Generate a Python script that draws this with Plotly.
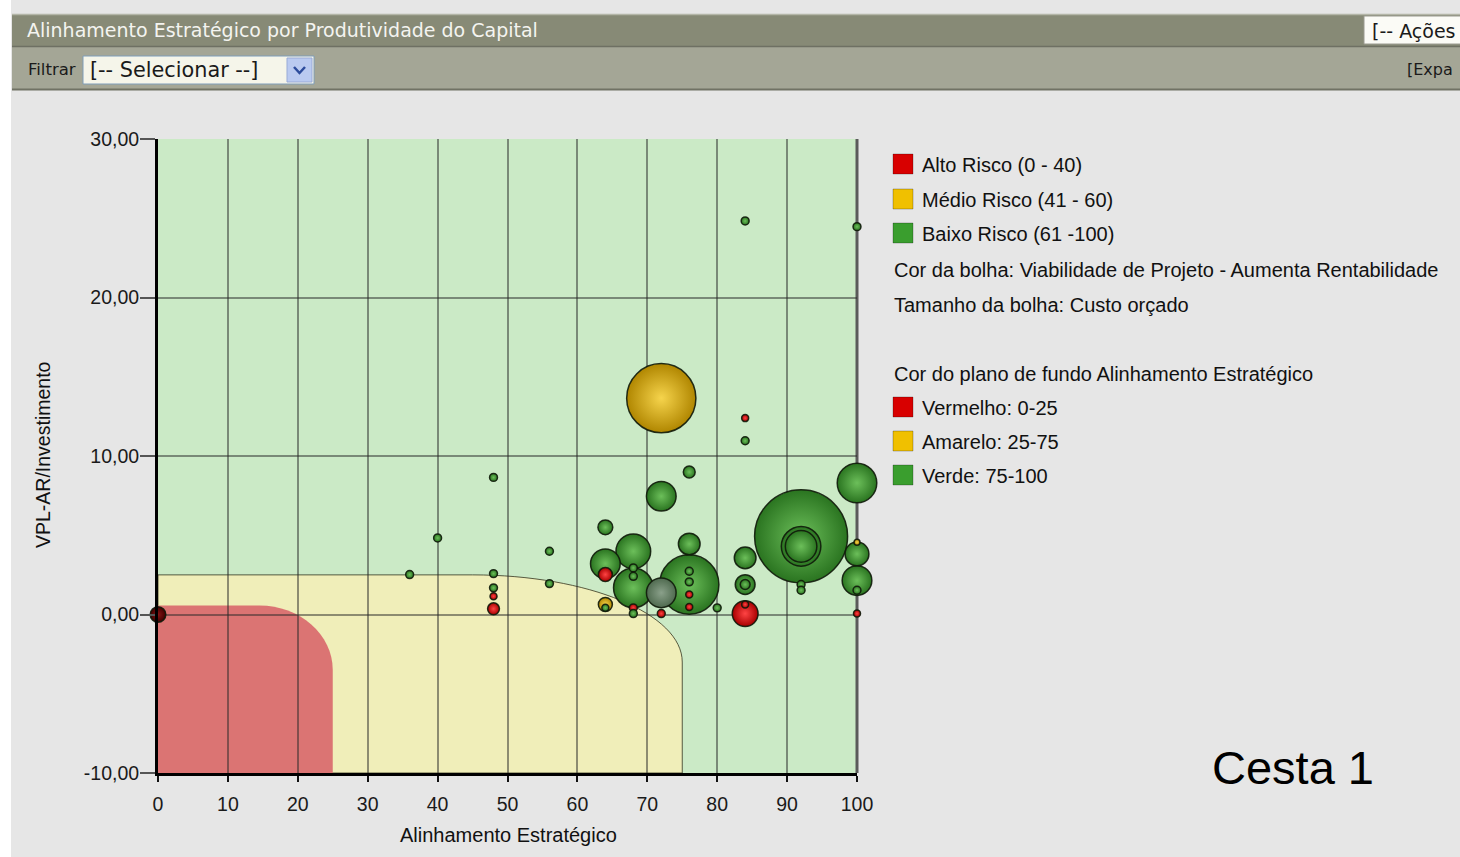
import plotly.graph_objects as go

# ----------------------------- data -----------------------------
alinhamento = [0, 48, 40, 56, 36, 48, 48, 48, 48, 56,
               64, 64, 64, 64, 64, 84, 84, 84, 100, 76,
               72, 68, 68, 68, 68, 72, 76, 76, 76, 76,
               76, 76, 72, 68, 68, 80, 84, 84, 84, 84,
               84, 92, 92, 92, 92, 92, 100, 100, 100, 100,
               100, 100, 72]
vpl_ar_invest = [0.0, 8.65, 4.83, 3.99, 2.52, 2.58, 1.68, 1.15, 0.36, 1.95,
                 5.5, 3.2, 2.52, 0.63, 0.42, 10.96, 12.39, 24.83, 24.47, 8.99,
                 7.46, 3.99, 2.94, 2.41, 1.68, 1.37, 4.45, 1.89, 2.73, 2.06,
                 1.26, 0.48, 0.06, 0.42, 0.06, 0.42, 3.57, 1.89, 1.89, 0.06,
                 0.63, 4.93, 4.3, 4.3, 1.89, 1.53, 8.3, 3.82, 4.56, 2.14,
                 1.53, 0.06, 13.65]
custo_orcado = [2.5, 0.64, 0.64, 0.64, 0.64, 0.64, 0.64, 0.5, 1.44, 0.64,
                2.25, 9.0, 2.0, 2.0, 0.5, 0.64, 0.5, 0.64, 0.64, 1.44,
                9.0, 12.3, 0.64, 0.64, 16.0, 9.0, 4.8, 36.0, 0.64, 0.64,
                0.5, 0.5, 0.64, 0.64, 0.64, 0.64, 4.8, 4.0, 1.0, 6.8,
                0.5, 88.4, 16.0, 10.2, 0.64, 0.64, 16.0, 5.8, 0.36, 9.0,
                0.64, 0.5, 49.0]
viabilidade = ["Crítico", "Baixo", "Baixo", "Baixo", "Baixo", "Baixo", "Baixo", "Alto", "Alto", "Baixo",
               "Baixo", "Baixo", "Alto", "Médio", "Baixo", "Baixo", "Alto", "Baixo", "Baixo", "Baixo",
               "Baixo", "Baixo", "Baixo", "Baixo", "Baixo", "Indefinido", "Baixo", "Baixo", "Baixo", "Baixo",
               "Alto", "Alto", "Alto", "Alto", "Baixo", "Baixo", "Baixo", "Baixo", "Baixo", "Alto",
               "Alto", "Baixo", "Baixo", "Baixo", "Baixo", "Baixo", "Baixo", "Baixo", "Médio", "Baixo",
               "Baixo", "Alto", "Médio"]

x_ticks = [0, 10, 20, 30, 40, 50, 60, 70, 80, 90, 100]
y_ticks = [-10, 0, 10, 20, 30]
y_ticktext = [f"{v:.2f}".replace(".", ",") for v in y_ticks]

legenda_risco = ["Alto Risco (0 - 40)", "Médio Risco (41 - 60)", "Baixo Risco (61 -100)"]
legenda_fundo = ["Vermelho: 0-25", "Amarelo: 25-75", "Verde: 75-100"]

# background zones (alinhamento limits, vpl limits of the rounded areas)
zona_vermelha = dict(x_max=25, y_top=0.57, x_knee=14.5, y_knee=-3.5)
zona_amarela = dict(x_max=75, y_top=2.5, x_knee=45, y_knee=-3.0)

# ----------------------------- style -----------------------------
W, H = 1460, 857
PL, PR, PT, PB = 158, 857, 139, 773
FONT = "Liberation Sans, Arial, sans-serif"
UI_FONT = "DejaVu Sans, Verdana, sans-serif"

cores = {  # (edge colour, centre colour)
    "Alto": ("#a80000", "#ff4444"),
    "Médio": ("#b08600", "#f6d44c"),
    "Baixo": ("#2a7420", "#6cbf5a"),
    "Indefinido": ("#4f6a4f", "#8aa08a"),
    "Crítico": ("#3e0000", "#8a1616"),
}
MAX_BUBBLE_PX = 93


def px(x):
    return (x - PL) / (PR - PL)


def py(y):
    return (PB - y) / (PB - PT)


# draw biggest bubbles first
order = sorted(range(len(custo_orcado)), key=lambda i: -custo_orcado[i])
bx = [alinhamento[i] for i in order]
by = [vpl_ar_invest[i] for i in order]
bs = [custo_orcado[i] for i in order]
bc = [cores[viabilidade[i]][0] for i in order]
bg = [cores[viabilidade[i]][1] for i in order]

fig = go.Figure()
fig.add_trace(go.Scatter(
    x=bx, y=by, mode="markers", cliponaxis=False, showlegend=False,
    marker=dict(size=bs, sizemode="area",
                sizeref=2 * max(custo_orcado) / MAX_BUBBLE_PX ** 2,
                color=bc, opacity=1,
                gradient=dict(type="radial", color=bg),
                line=dict(color="rgba(15,25,10,0.9)", width=1.5)),
    hovertemplate="Alinhamento: %{x}<br>VPL-AR/Inv.: %{y:.2f}<extra></extra>",
))


def rounded_zone(z):
    k = 0.5523
    a = z["x_max"] - z["x_knee"]
    b = z["y_top"] - z["y_knee"]
    return (f"M 0,-10 L 0,{z['y_top']} L {z['x_knee']},{z['y_top']} "
            f"C {z['x_knee'] + k * a},{z['y_top']} {z['x_max']},{z['y_knee'] + k * b} "
            f"{z['x_max']},{z['y_knee']} L {z['x_max']},-10 Z")


shapes = [
    dict(type="path", xref="x", yref="y", path=rounded_zone(zona_amarela),
         fillcolor="#f0eeb9", line=dict(color="rgba(40,40,20,0.75)", width=1), layer="below"),
    dict(type="path", xref="x", yref="y", path=rounded_zone(zona_vermelha),
         fillcolor="#db7473", line=dict(width=0), layer="below"),
    # right border of the plot
    dict(type="line", xref="paper", yref="paper", x0=1, x1=1, y0=0, y1=1,
         line=dict(color="#5a5a5a", width=3), layer="below"),
]

# ---- header bars (page chrome) ----
shapes += [
    dict(type="rect", xref="paper", yref="paper", x0=px(0), x1=px(11), y0=py(857), y1=py(0),
         fillcolor="#ffffff", line=dict(width=0)),
    dict(type="rect", xref="paper", yref="paper", x0=px(12), x1=px(1462), y0=py(46), y1=py(14),
         fillcolor="#878a76", line=dict(width=0)),
    dict(type="line", xref="paper", yref="paper", x0=px(12), x1=px(1462), y0=py(14.5), y1=py(14.5),
         line=dict(color="#b4b6a8", width=1.5)),
    dict(type="rect", xref="paper", yref="paper", x0=px(12), x1=px(1462), y0=py(89), y1=py(47),
         fillcolor="#a4a696", line=dict(width=0)),
    dict(type="line", xref="paper", yref="paper", x0=px(12), x1=px(1462), y0=py(46.5), y1=py(46.5),
         line=dict(color="#6e7063", width=1.5)),
    dict(type="line", xref="paper", yref="paper", x0=px(12), x1=px(1462), y0=py(89.5), y1=py(89.5),
         line=dict(color="#707264", width=2)),
    # dropdown
    dict(type="rect", xref="paper", yref="paper", x0=px(83), x1=px(314), y0=py(84), y1=py(56),
         fillcolor="#f5f5ea", line=dict(color="#7f9db9", width=1)),
    dict(type="rect", xref="paper", yref="paper", x0=px(287), x1=px(312), y0=py(82), y1=py(58),
         fillcolor="#bacaf0", line=dict(color="#98aad6", width=1)),
    dict(type="path", xref="paper", yref="paper",
         path=f"M {px(294)},{py(67)} L {px(299.5)},{py(73)} L {px(305)},{py(67)}",
         line=dict(color="#2d4c9c", width=2.5)),
    # actions box
    dict(type="rect", xref="paper", yref="paper", x0=px(1364), x1=px(1462), y0=py(44), y1=py(16),
         fillcolor="#fbfbf6", line=dict(color="#9a9a90", width=1)),
]

annotations = [
    dict(text="Alinhamento Estratégico por Produtividade do Capital", x=px(25), y=py(30),
         font=dict(family=UI_FONT, size=19, color="#f4f4f0")),
    dict(text="Filtrar", x=px(26), y=py(69), font=dict(family=UI_FONT, size=16.5, color="#1a1a1a")),
    dict(text="[-- Selecionar --]", x=px(88), y=py(70), font=dict(family=UI_FONT, size=20.8, color="#1a1a1a")),
    dict(text="[-- Ações", x=px(1370), y=py(31), font=dict(family=UI_FONT, size=19, color="#1a1a1a")),
    dict(text="[Expa", x=px(1405), y=py(69), font=dict(family=UI_FONT, size=16, color="#1a1a1a")),
    dict(text="Cesta 1", x=px(1210), y=py(767), font=dict(family=FONT, size=47, color="#000000")),
    dict(text="Alinhamento Estratégico", x=px(508), y=py(835), xanchor="center",
         font=dict(family=FONT, size=20, color="#111111")),
    dict(text="VPL-AR/Investimento", x=px(43), y=py(455), xanchor="center", textangle=-90,
         font=dict(family=FONT, size=19.5, color="#111111")),
]

# ---- legend ----
sq_colors = ["#d80000", "#f0c000", "#3a9e2e"]
rows_top = [165, 200, 234]
rows_bottom = [408, 442, 476]
LEG_SIZE = 20
for lab, yc, col in zip(legenda_risco, rows_top, sq_colors):
    shapes.append(dict(type="rect", xref="paper", yref="paper", x0=px(893), x1=px(913),
                       y0=py(yc + 9), y1=py(yc - 11), fillcolor=col, line=dict(color="rgba(0,0,0,0.25)", width=1)))
    annotations.append(dict(text=lab, x=px(920), y=py(yc), font=dict(family=FONT, size=LEG_SIZE, color="#111111")))
for lab, yc, col in zip(legenda_fundo, rows_bottom, sq_colors):
    shapes.append(dict(type="rect", xref="paper", yref="paper", x0=px(893), x1=px(913),
                       y0=py(yc + 9), y1=py(yc - 11), fillcolor=col, line=dict(color="rgba(0,0,0,0.25)", width=1)))
    annotations.append(dict(text=lab, x=px(920), y=py(yc), font=dict(family=FONT, size=LEG_SIZE, color="#111111")))
for lab, yc in [("Cor da bolha: Viabilidade de Projeto - Aumenta Rentabilidade", 270),
                ("Tamanho da bolha: Custo orçado", 305),
                ("Cor do plano de fundo Alinhamento Estratégico", 374)]:
    annotations.append(dict(text=lab, x=px(892), y=py(yc), font=dict(family=FONT, size=LEG_SIZE, color="#111111")))

for a in annotations:
    a.setdefault("xref", "paper")
    a.setdefault("yref", "paper")
    a.setdefault("xanchor", "left")
    a.setdefault("yanchor", "middle")
    a["showarrow"] = False

fig.update_layout(
    width=W, height=H,
    margin=dict(l=PL, r=W - PR, t=PT, b=H - PB, pad=0),
    paper_bgcolor="#e6e6e6", plot_bgcolor="#cbeac6",
    separators=",.",
    shapes=shapes, annotations=annotations,
    font=dict(family=FONT, color="#222222"),
    xaxis=dict(range=[0, 100], tickvals=x_ticks, showgrid=True,
               gridcolor="rgba(40,40,40,0.5)", gridwidth=1.5, zeroline=False,
               showline=True, linecolor="#000000", linewidth=3,
               ticks="outside", ticklen=6, tickwidth=2, tickcolor="#111111",
               ticklabelstandoff=6, tickfont=dict(size=19.5, color="#1a1a1a")),
    yaxis=dict(range=[-10, 30], tickvals=y_ticks, ticktext=y_ticktext, showgrid=True,
               gridcolor="rgba(40,40,40,0.5)", gridwidth=1.5, zeroline=False,
               showline=True, linecolor="#000000", linewidth=3,
               ticks="outside", ticklen=15, tickwidth=2, tickcolor="#555555",
               ticklabelstandoff=-3, tickfont=dict(size=19.5, color="#1a1a1a")),
)

fig.write_html("out.html", config={"displayModeBar": False},
               post_script="document.body.style.margin='0';document.body.style.overflow='hidden';")
